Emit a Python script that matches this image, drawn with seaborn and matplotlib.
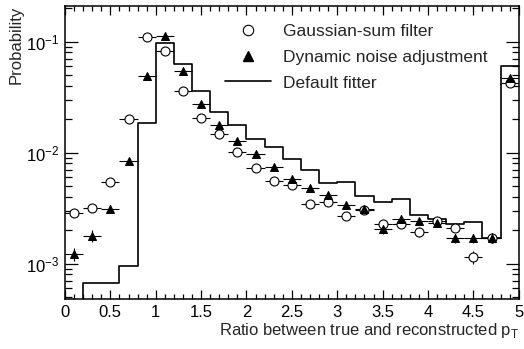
import matplotlib
matplotlib.use("Agg")
import matplotlib.pyplot as plt
import numpy as np
import seaborn as sns
from matplotlib.lines import Line2D
from matplotlib.ticker import MultipleLocator

sns.set_theme(style="ticks")
plt.rcParams['font.family'] = ['Liberation Sans', 'DejaVu Sans']
plt.rcParams['mathtext.fontset'] = 'custom'
plt.rcParams['mathtext.rm'] = 'Liberation Sans'

# 25 bins of width 0.2 between 0 and 5
bin_edges = [0.0, 0.2, 0.4, 0.6, 0.8, 1.0, 1.2, 1.4, 1.6, 1.8, 2.0, 2.2, 2.4,
             2.6, 2.8, 3.0, 3.2, 3.4, 3.6, 3.8, 4.0, 4.2, 4.4, 4.6, 4.8, 5.0]
bin_centers = [0.1, 0.3, 0.5, 0.7, 0.9, 1.1, 1.3, 1.5, 1.7, 1.9, 2.1, 2.3, 2.5,
               2.7, 2.9, 3.1, 3.3, 3.5, 3.7, 3.9, 4.1, 4.3, 4.5, 4.7, 4.9]

default_fitter = [0.0, 6.75e-4, 6.75e-4, 9.5e-4, 0.0187, 0.0973, 0.0629, 0.0360,
                  0.0235, 0.0178, 0.0133, 0.0112, 0.00877, 0.00698, 0.00528,
                  0.00547, 0.00406, 0.00356, 0.00382, 0.00274, 0.00255, 0.0023,
                  0.00236, 0.00169, 0.0598]

gaussian_sum = [0.00287, 0.00319, 0.0054, 0.020, 0.110, 0.0817, 0.0363, 0.0207,
                0.0148, 0.0101, 0.00722, 0.00558, 0.0051, 0.00342, 0.00356,
                0.00268, 0.00303, 0.0023, 0.00227, 0.00193, 0.00243, 0.00209,
                0.00115, 0.00172, 0.0428]
gaussian_sum_relerr = [0.05, 0.05, 0.04, 0.02, 0.01, 0.01, 0.02, 0.02, 0.03, 0.03,
                       0.04, 0.04, 0.05, 0.06, 0.06, 0.07, 0.07, 0.08, 0.08, 0.10,
                       0.08, 0.08, 0.13, 0.10, 0.02]

dynamic_noise = [0.00122, 0.00178, 0.00314, 0.0084, 0.0493, 0.113, 0.0547, 0.0274,
                 0.0178, 0.01277, 0.00966, 0.00748, 0.00575, 0.00483, 0.00415,
                 0.00337, 0.0031, 0.00207, 0.00255, 0.00241, 0.00233, 0.0017,
                 0.00169, 0.00172, 0.047]
dynamic_noise_relerr = [0.13, 0.12, 0.08, 0.04, 0.01, 0.01, 0.02, 0.02, 0.03, 0.03,
                        0.04, 0.04, 0.05, 0.06, 0.06, 0.07, 0.07, 0.10, 0.08, 0.08,
                        0.08, 0.10, 0.10, 0.10, 0.02]

fig = plt.figure(figsize=(5.24, 3.49), dpi=100)
ax = fig.add_axes([0.124, 0.143, 0.866, 0.84])

sns.histplot(x=bin_centers, weights=default_fitter, bins=bin_edges, element="step",
             fill=False, color="black", linewidth=1.2, ax=ax)

for vals, rel, mk, face, size in [
        (gaussian_sum, gaussian_sum_relerr, "o", "white", 42),
        (dynamic_noise, dynamic_noise_relerr, "^", "black", 32)]:
    vals = np.array(vals)
    ax.errorbar(bin_centers, vals, xerr=0.1, yerr=vals * np.array(rel), fmt="none",
                ecolor="black", elinewidth=0.8, capsize=0, zorder=2)
    sns.scatterplot(x=bin_centers, y=vals, marker=mk, s=size, facecolor=face,
                    edgecolor="black", linewidth=0.8, zorder=3, ax=ax)

ax.set_yscale("log")
ax.set_xlim(0, 5)
ax.set_ylim(4.8e-4, 0.21)
ax.xaxis.set_major_locator(MultipleLocator(0.5))
ax.xaxis.set_minor_locator(MultipleLocator(0.1))
ax.xaxis.set_major_formatter(matplotlib.ticker.FormatStrFormatter('%g'))

ax.tick_params(which="both", direction="in", top=True, right=True,
               labelsize=12, colors="black", width=0.9)
ax.tick_params(axis="x", which="major", length=6.5, pad=4)
ax.tick_params(axis="x", which="minor", length=3.5)
ax.tick_params(axis="y", which="major", length=9.5, pad=4)
ax.tick_params(axis="y", which="minor", length=5)
for sp in ax.spines.values():
    sp.set_linewidth(1.1)
    sp.set_color("black")

ax.set_xlabel(r"Ratio between true and reconstructed p$_{\mathregular{T}}$",
              fontsize=12, loc="right", labelpad=1)
ax.set_ylabel("Probability", fontsize=12, loc="top", labelpad=2)

handles = [
    Line2D([], [], marker="o", ls="none", mfc="white", mec="black", ms=7.5, mew=0.8),
    Line2D([], [], marker="^", ls="none", mfc="black", mec="black", ms=6.5),
    Line2D([], [], color="black", lw=1.2),
]
labels = ["Gaussian-sum filter", "Dynamic noise adjustment", "Default fitter"]
ax.legend(handles, labels, loc="upper left", bbox_to_anchor=(0.352, 0.94),
          frameon=False, fontsize=12.5, handlelength=2.67, handletextpad=0.67,
          labelspacing=0.62, borderpad=0, borderaxespad=0)

fig.savefig("out.png", dpi=100)
